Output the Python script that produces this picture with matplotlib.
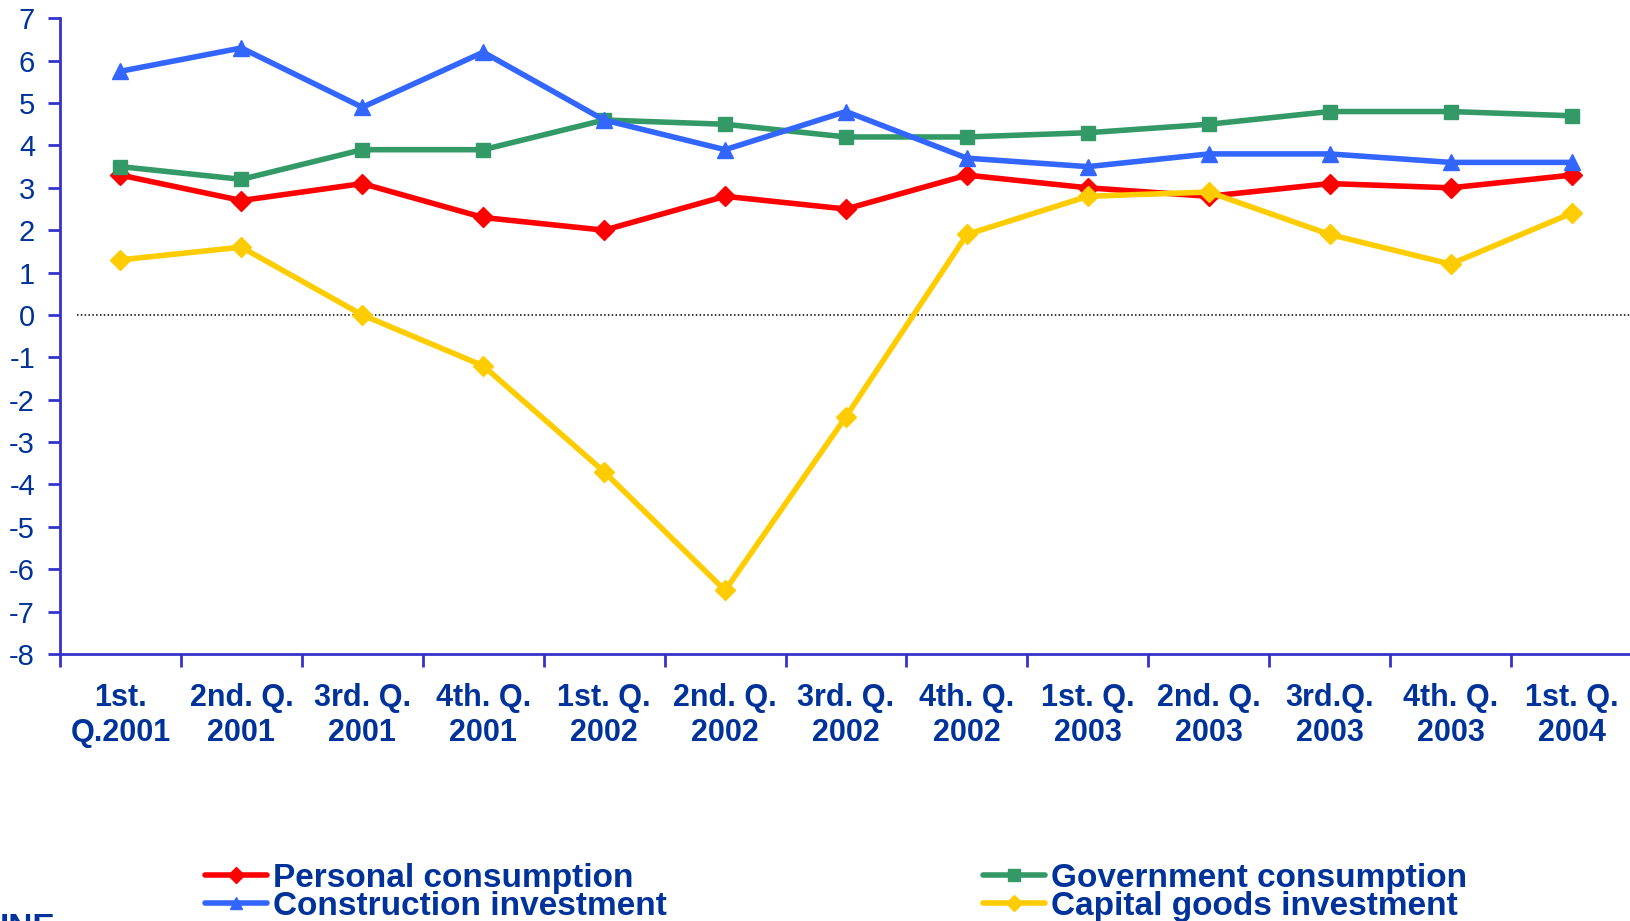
import matplotlib
matplotlib.use("Agg")
import matplotlib.pyplot as plt
from matplotlib.lines import Line2D

quarters = ["1st.\nQ.2001", "2nd. Q.\n2001", "3rd. Q.\n2001", "4th. Q.\n2001",
            "1st. Q.\n2002", "2nd. Q.\n2002", "3rd. Q.\n2002", "4th. Q.\n2002",
            "1st. Q.\n2003", "2nd. Q.\n2003", "3rd.Q.\n2003", "4th. Q.\n2003",
            "1st. Q.\n2004"]

personal_consumption = [3.3, 2.7, 3.1, 2.3, 2.0, 2.8, 2.5, 3.3, 3.0, 2.8, 3.1, 3.0, 3.3]
government_consumption = [3.5, 3.2, 3.9, 3.9, 4.6, 4.5, 4.2, 4.2, 4.3, 4.5, 4.8, 4.8, 4.7]
construction_investment = [5.75, 6.3, 4.9, 6.2, 4.6, 3.9, 4.8, 3.7, 3.5, 3.8, 3.8, 3.6, 3.6]
capital_goods_investment = [1.3, 1.6, 0.0, -1.2, -3.7, -6.5, -2.4, 1.9, 2.8, 2.9, 1.9, 1.2, 2.4]

y_ticks = list(range(-8, 8))

TEXT_BLUE = "#003399"
AXIS_BLUE = "#3333cc"

plt.rcParams["font.family"] = ["Liberation Sans", "DejaVu Sans"]

fig = plt.figure(figsize=(16.3, 9.21), dpi=100)
ax = fig.add_axes([60 / 1630, 1 - 654 / 921, 1572 / 1630, (654 - 18.3) / 921])

x = [i + 0.5 for i in range(len(quarters))]

series = [
    ("Personal consumption", personal_consumption, "#ff0000", "D", 10),
    ("Government consumption", government_consumption, "#339966", "s", 10),
    ("Construction investment", construction_investment, "#3366ff", "^", 11),
    ("Capital goods investment", capital_goods_investment, "#ffcc00", "D", 10),
]

handles = {}
for z, (name, vals, color, marker, ms) in enumerate(series):
    ax.plot(x, vals, color=color, lw=4.0, marker=marker, ms=ms,
            markeredgecolor=color, markerfacecolor=color, zorder=3 + z,
            solid_joinstyle="miter")
    handles[name] = Line2D([0], [0], color=color, lw=4.0, marker=marker,
                           ms=ms * 0.8, markeredgecolor=color,
                           markerfacecolor=color, solid_capstyle="round")

# zero reference line
ax.axhline(0, xmin=0.011, xmax=1, color="black", lw=1.1, ls=(0, (1, 1.5)), zorder=2)

ax.set_xlim(0, len(quarters))
ax.set_ylim(-8, 7)

ax.set_yticks(y_ticks)
ax.set_yticklabels([str(v) for v in y_ticks])
ax.set_xticks(range(len(quarters) + 1))
ax.set_xticklabels([])
ax.set_xticks(x, minor=True)
ax.set_xticklabels(quarters, minor=True)

for s in ("top", "right"):
    ax.spines[s].set_visible(False)
for s in ("left", "bottom"):
    ax.spines[s].set_color(AXIS_BLUE)
    ax.spines[s].set_linewidth(2)

ax.tick_params(axis="y", which="major", direction="out", length=9, width=2,
               color=AXIS_BLUE, labelcolor=TEXT_BLUE, labelsize=21, pad=9)
ax.tick_params(axis="x", which="major", direction="out", length=9, width=2,
               color=AXIS_BLUE)
ax.tick_params(axis="x", which="minor", length=0, labelcolor=TEXT_BLUE,
               labelsize=22, pad=21)
for lbl in ax.get_xticklabels(minor=True):
    lbl.set_fontweight("bold")
    lbl.set_linespacing(1.2)

legend_kw = dict(frameon=False, prop={"weight": "bold", "size": 24},
                 labelcolor=TEXT_BLUE, handlelength=1.85, handletextpad=0.2,
                 labelspacing=-0.1, borderpad=0, borderaxespad=0,
                 loc="upper left")
fig.legend([handles["Personal consumption"], handles["Construction investment"]],
           ["Personal consumption", "Construction investment"],
           bbox_to_anchor=(205 / 1630, 1 - 863 / 921), **legend_kw)
fig.legend([handles["Government consumption"], handles["Capital goods investment"]],
           ["Government consumption", "Capital goods investment"],
           bbox_to_anchor=(983 / 1630, 1 - 863 / 921), **legend_kw)

fig.text(0, 1 - 913 / 921, "INE", color=TEXT_BLUE, fontsize=24,
         fontweight="bold", ha="left", va="top")

fig.savefig("out.png", dpi=100)
